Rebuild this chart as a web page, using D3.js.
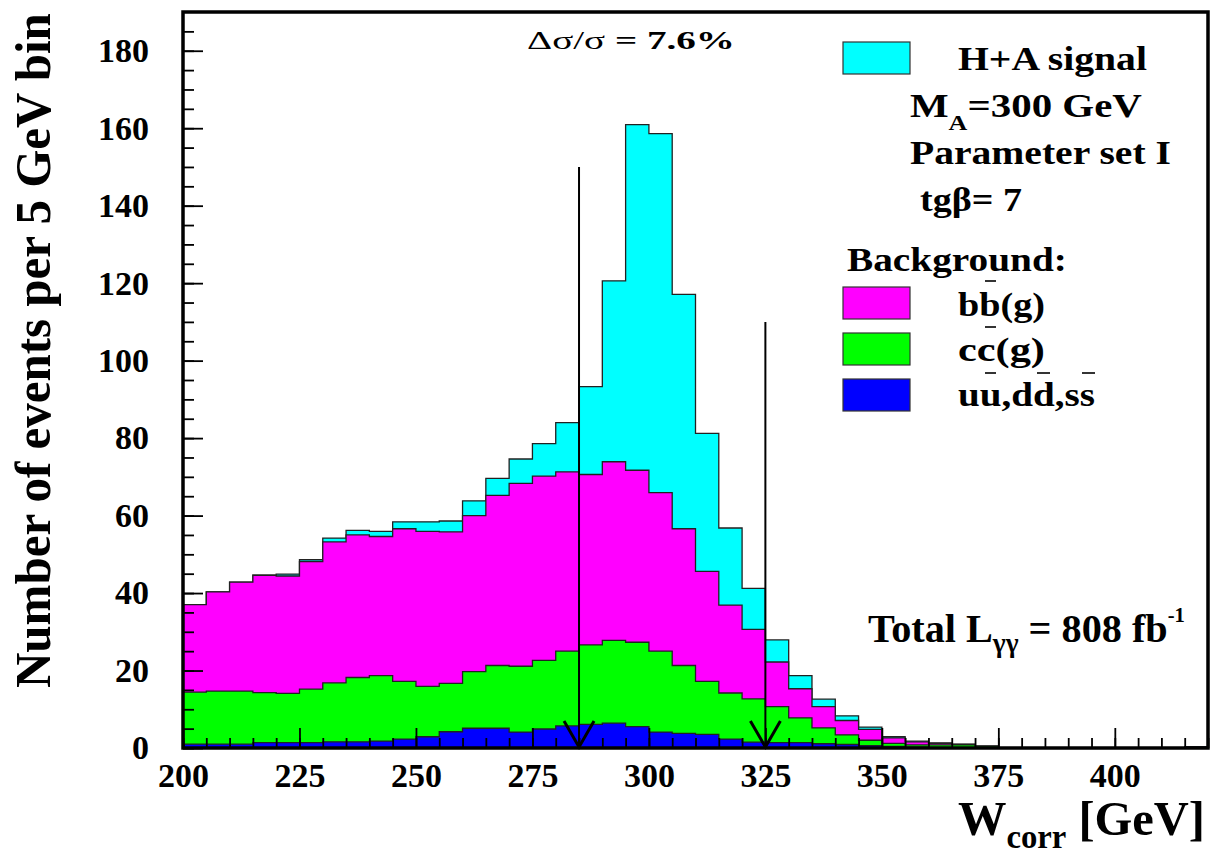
<!DOCTYPE html>
<head>
  <meta charset="utf-8">
  <script src="https://d3js.org/d3.v7.min.js"></script>
  <style>
    body { margin:0; background:#fff; }
    text { font-family: "Liberation Serif", "Times New Roman", serif; font-weight: bold; fill:#000; }
  </style>
</head>
<body>
  <svg width="1213" height="855"></svg>
  <script>
    // 5 GeV bins, 200 - 420 GeV
    var binLow = d3.range(200, 420, 5);
    var uds = [1.0,1.0,1.0,1.4,1.4,1.4,1.6,1.6,1.8,2.3, 2.9,4.2,5.1,5.1,4.1,4.9,5.7,6.1,6.4,5.5,
               4.1,3.8,3.5,2.3,1.5,1.4,1.4,1.1,0.9,0.6, 0.4,0.2,0.1,0.1,0,0,0,0,0,0, 0,0,0,0.3];
    var cc  = [13.4,13.7,13.7,12.9,12.7,13.8,15.2,16.6,16.9,14.9, 13.0,12.5,14.6,16.2,17.0,17.7,19.3,20.5,21.4,21.8,
               20.9,17.5,13.7,11.9,11.2,9.3,6.4,4.1,2.5,1.4, 0.8,0.6,0.7,0.7,0.5,0,0,0,0,0, 0,0,0,0];
    var bb  = [22.6,25.6,28.1,30.3,30.3,32.9,36.4,36.8,35.9,39.4, 40.0,39.1,40.3,43.9,47.2,47.6,46.3,44.0,46.1,44.4,
               40.9,35.3,28.4,22.7,17.9,11.5,7.5,5.5,3.7,2.8, 1.4,0.8,0.4,0.1,0,0,0,0,0,0, 0,0,0,0];
    var sig = [0,0,0,0,0.5,0.5,1.0,1.2,1.3,1.8, 2.5,2.8,3.8,4.4,6.3,8.4,12.7,22.7,46.7,89.2,
               92.7,60.5,35.6,19.9,10.6,5.7,3.4,1.9,1.2,0.6, 0.3,0.2,0.1,0.1,0,0,0,0,0,0, 0,0,0,0];

    var keys = ["uds", "cc", "bb", "sig"];
    var colors = {uds: "#0000ff", cc: "#00ff00", bb: "#ff00ff", sig: "#00ffff"};

    var xMajor = [200, 225, 250, 275, 300, 325, 350, 375, 400];
    var xMinor = d3.range(200, 421, 5);
    var yMajor = [0, 20, 40, 60, 80, 100, 120, 140, 160, 180];
    var yMinor = d3.range(0, 190, 5);

    // cut window arrows
    var cutX = [285, 325];
    var cutTop = [150, 110];

    var svg = d3.select("svg");
    svg.append("rect").attr("width", 1213).attr("height", 855).attr("fill", "#fff");

    var x = d3.scaleLinear().domain([200, 420]).range([183, 1208]);
    var y = d3.scaleLinear().domain([0, 190]).range([748, 12]);

    var rows = binLow.map(function(b, i) {
      return {bin: b, uds: uds[i], cc: cc[i], bb: bb[i], sig: sig[i]};
    });
    var series = d3.stack().keys(keys)(rows);

    var area = d3.area()
      .x(function(d) { return x(d.x); })
      .y0(y(0))
      .y1(function(d) { return y(d.top); })
      .curve(d3.curveStepAfter);

    // cumulative histograms, drawn from the total down
    series.slice().reverse().forEach(function(s) {
      var pts = s.map(function(d, i) { return {x: binLow[i], top: d[1]}; });
      pts.push({x: 420, top: pts[pts.length - 1].top});
      svg.append("path")
        .attr("d", area(pts))
        .attr("fill", colors[s.key])
        .attr("stroke", "#222")
        .attr("stroke-width", 1.3);
    });

    // arrows
    cutX.forEach(function(c, i) {
      var g = svg.append("g").attr("stroke", "#000").attr("fill", "none");
      g.append("line").attr("x1", x(c)).attr("x2", x(c))
        .attr("y1", y(cutTop[i])).attr("y2", y(0)).attr("stroke-width", 2);
      g.append("path")
        .attr("d", "M" + (x(c) - 15) + "," + (y(0) - 27) + "L" + x(c) + "," + (y(0) - 1) + "L" + (x(c) + 15) + "," + (y(0) - 27))
        .attr("stroke-width", 3);
    });

    // axes, ticks inside the frame
    function styleAxis(g) {
      g.select(".domain").remove();
      g.selectAll("line").attr("stroke", "#000").attr("stroke-width", 1.8);
      g.selectAll("text").attr("font-family", "Liberation Serif").attr("font-weight", "bold")
        .attr("font-size", 34).attr("fill", "#000");
    }
    svg.append("g").attr("transform", "translate(0," + y(0) + ")")
      .call(d3.axisBottom(x).tickValues(xMinor).tickSize(-10).tickFormat(""))
      .call(styleAxis);
    svg.append("g").attr("transform", "translate(0," + y(0) + ")")
      .call(d3.axisBottom(x).tickValues(xMajor).tickSize(-20).tickPadding(15).tickFormat(d3.format("d")))
      .call(styleAxis);
    svg.append("g").attr("transform", "translate(" + x(200) + ",0)")
      .call(d3.axisLeft(y).tickValues(yMinor).tickSize(-11).tickFormat(""))
      .call(styleAxis);
    svg.append("g").attr("transform", "translate(" + x(200) + ",0)")
      .call(d3.axisLeft(y).tickValues(yMajor).tickSize(-20).tickPadding(34).tickFormat(d3.format("d")))
      .call(styleAxis);

    svg.append("rect")
      .attr("x", x(200)).attr("y", y(190))
      .attr("width", x(420) - x(200)).attr("height", y(0) - y(190))
      .attr("fill", "none").attr("stroke", "#000").attr("stroke-width", 3.5);

    // text stretched to a target width
    function fit(t, tx, ty, w) {
      t.attr("transform", "translate(" + tx + "," + ty + ")");
      var bw = t.node().getComputedTextLength();
      t.attr("transform", "translate(" + tx + "," + ty + ") scale(" + (w / bw) + ",1)");
    }
    function addText(parts, size, tx, ty, w) {
      var t = svg.append("text").attr("font-size", size);
      parts.forEach(function(p) {
        var ts = t.append("tspan").text(p.s);
        if (p.size) ts.attr("font-size", p.size);
        if (p.dy) ts.attr("dy", p.dy);
        if (p.weight) ts.attr("font-weight", p.weight);
      });
      fit(t, tx, ty, w);
      return t;
    }

    addText([{s: "\u0394\u03c3/\u03c3", weight: "normal"}, {s: " = 7.6%"}], 26, 527, 49, 208);

    // legend
    var legendBoxes = [
      {key: "sig", y: 42},
      {key: "bb", y: 287},
      {key: "cc", y: 333},
      {key: "uds", y: 379}
    ];
    legendBoxes.forEach(function(b) {
      svg.append("rect").attr("x", 843).attr("y", b.y).attr("width", 67).attr("height", 32)
        .attr("fill", colors[b.key]).attr("stroke", "#333").attr("stroke-width", 1.2);
    });
    addText([{s: "H+A signal"}], 33, 958, 70, 189);
    addText([{s: "M"}, {s: "A", size: 21, dy: 13}, {s: "=300 GeV", dy: -13}], 33, 910, 117, 232);
    addText([{s: "Parameter set I"}], 33, 910, 164, 261);
    addText([{s: "tg\u03b2= 7"}], 33, 920, 211, 102);
    addText([{s: "Background:"}], 33, 847, 271, 220);
    addText([{s: "bb(g)"}], 33, 958, 316, 87);
    addText([{s: "cc(g)"}], 33, 958, 361, 87);
    addText([{s: "uu,dd,ss"}], 33, 958, 406, 137);

    // displaced overbars, as in the original
    [[985, 996, 281], [985, 996, 327], [985, 996, 373], [1037, 1050, 373], [1082, 1095, 373]].forEach(function(b) {
      svg.append("line").attr("x1", b[0]).attr("x2", b[1]).attr("y1", b[2]).attr("y2", b[2])
        .attr("stroke", "#000").attr("stroke-width", 1.6);
    });

    addText([{s: "Total L"}, {s: "\u03b3\u03b3", size: 28, dy: 10}, {s: " = 808 fb", dy: -10},
             {s: "-1", size: 21, dy: -20}], 41, 868, 642, 317);

    // axis titles
    addText([{s: "W"}, {s: "corr", size: 33, dy: 13}, {s: " [GeV]", dy: -13}], 49, 958, 835, 247);

    var yt = svg.append("text").attr("font-size", 50).text("Number of events per 5 GeV bin");
    var bw = yt.node().getComputedTextLength();
    yt.attr("transform", "translate(50,688) rotate(-90) scale(" + (675 / bw) + ",1)");
  </script>
</body>
